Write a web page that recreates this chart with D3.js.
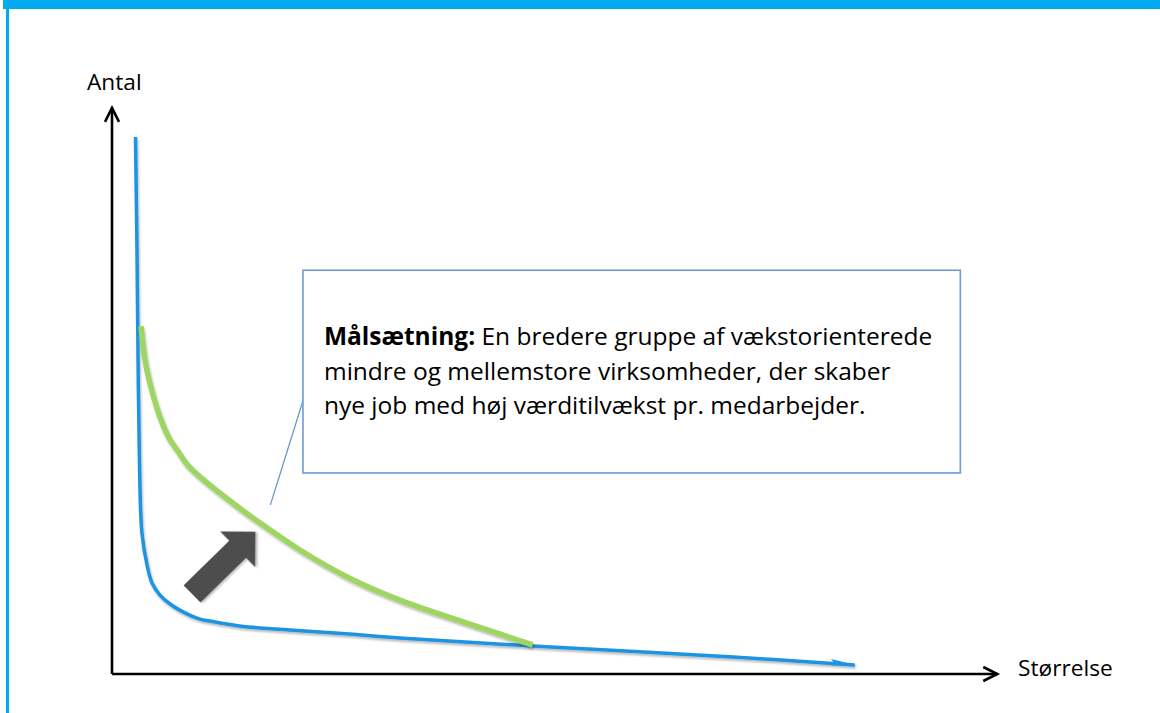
<!DOCTYPE html>
<html>
<head>
<meta charset="utf-8">
<script src="https://cdn.jsdelivr.net/npm/d3@7"></script>
<style>
  body { margin: 0; background: #fff; }
  .chart text { font-family: "Open Sans", Lato, sans-serif; fill: #000; }
</style>
</head>
<body>
<div class="chart"></div>
<script>
// axis titles
var xTitle = "Størrelse";
var yTitle = "Antal";

// current distribution of firms (blue) - x = size, y = count
var currentX = [2.67, 2.84, 2.95, 3.1, 3.4, 3.98, 4.55, 5.45, 6.6, 8.07, 10, 11.1, 14.5, 20.2, 27, 32.7, 47.8, 70.6, 84.4];
var currentY = [95.9, 75.7, 57.9, 40, 25.2, 19.5, 16.25, 14.1, 12.5, 11.1, 9.8, 9.46, 8.57, 7.86, 7.14, 6.43, 5, 3.04, 1.6];

// goal distribution (green)
var goalX = [3.3, 3.75, 4.3, 5.45, 6.6, 7.4, 8.6, 10, 13.75, 17.6, 21.4, 27, 32.7, 40.3, 47.8];
var goalY = [62.1, 56.1, 52, 45.9, 41.8, 40, 37.3, 35.2, 30.5, 26.1, 22.1, 17.1, 13.2, 9.1, 5.2];

// callout text
var goalLines = [
  { bold: "Målsætning:", rest: " En bredere gruppe af vækstorienterede" },
  { bold: "", rest: "mindre og mellemstore virksomheder, der skaber" },
  { bold: "", rest: "nye job med høj værditilvækst pr. medarbejder." }
];

var width = 1160, height = 713;
var svg = d3.select(".chart").append("svg")
  .attr("width", width)
  .attr("height", height);

var x = d3.scaleLinear().domain([0, 100]).range([112, 992]);
var y = d3.scaleLinear().domain([0, 100]).range([674, 114]);

var defs = svg.append("defs");
var f = defs.append("filter").attr("id", "shadow")
  .attr("x", "-5%").attr("y", "-5%").attr("width", "110%").attr("height", "120%");
f.append("feDropShadow").attr("dx", 1).attr("dy", 2).attr("stdDeviation", 1.2)
  .attr("flood-color", "#000").attr("flood-opacity", 0.28);

// slide frame
svg.append("rect").attr("x", 3).attr("y", 0).attr("width", width - 3).attr("height", 9).attr("fill", "#00abef");
svg.append("rect").attr("x", 6).attr("y", 0).attr("width", 3).attr("height", height).attr("fill", "#00abef");

// axes
var axisG = svg.append("g").attr("stroke", "#000").attr("stroke-width", 2.6).attr("fill", "none");
var yTop = y(101.1), xEnd = x(100.6);
axisG.append("path").attr("d", "M" + x(0) + "," + y(0) + "V" + yTop + "M" + x(0) + "," + y(0) + "H" + xEnd);
axisG.append("path").attr("stroke-linejoin", "miter")
  .attr("d", "M" + (x(0) - 7) + "," + (yTop + 14) + "L" + x(0) + "," + yTop + "L" + (x(0) + 7) + "," + (yTop + 14));
axisG.append("path").attr("stroke-linejoin", "miter")
  .attr("d", "M" + (xEnd - 14) + "," + (y(0) - 7) + "L" + xEnd + "," + y(0) + "L" + (xEnd - 14) + "," + (y(0) + 7));

svg.append("text").attr("x", 87).attr("y", 90).attr("font-size", 22.7).text(yTitle);
svg.append("text").attr("x", 1018).attr("y", 676).attr("font-size", 22.7).text(xTitle);

var line = d3.line()
  .x(function (d) { return x(d[0]); })
  .y(function (d) { return y(d[1]); })
  .curve(d3.curveCatmullRom.alpha(0.5));

var current = d3.zip(currentX, currentY);
var goal = d3.zip(goalX, goalY);

// blue line + small end head
svg.append("path").datum(current)
  .attr("d", line)
  .attr("fill", "none").attr("stroke", "#1b94e2").attr("stroke-width", 3.5)
  .attr("filter", "url(#shadow)");
var last = current[current.length - 1], prev = current[current.length - 2];
var ang = Math.atan2(y(last[1]) - y(prev[1]), x(last[0]) - x(prev[0]));
svg.append("path")
  .attr("transform", "translate(" + x(last[0]) + "," + y(last[1]) + ") rotate(" + (ang * 180 / Math.PI) + ")")
  .attr("d", "M2,0 L-24,-4.5 L-20,0 L-24,2 Z")
  .attr("fill", "#1b94e2");

// green goal line
svg.append("path").datum(goal)
  .attr("d", line)
  .attr("fill", "none").attr("stroke", "#9fd562").attr("stroke-width", 5.5)
  .attr("filter", "url(#shadow)");

// block arrow showing shift
var arrowFrom = [9.1, 14.3], arrowTo = [16.3, 25.4];
var ax0 = x(arrowFrom[0]), ay0 = y(arrowFrom[1]), ax1 = x(arrowTo[0]), ay1 = y(arrowTo[1]);
var len = Math.hypot(ax1 - ax0, ay1 - ay0);
var ad = Math.atan2(ay1 - ay0, ax1 - ax0) * 180 / Math.PI;
var sw = 12, hw = 25, hl = 25;
svg.append("path")
  .attr("transform", "translate(" + ax0 + "," + ay0 + ") rotate(" + ad + ")")
  .attr("d", "M0," + (-sw) + "L" + (len - hl) + "," + (-sw) + "L" + (len - hl) + "," + (-hw) +
    "L" + len + ",0L" + (len - hl) + "," + hw + "L" + (len - hl) + "," + sw + "L0," + sw + "Z")
  .attr("fill", "#4d4d4d")
  .attr("filter", "url(#shadow)");

// callout box
var bx = x(21.7), by = y(72.1), bw = x(96.4) - bx, bh = y(35.9) - by;
svg.append("line")
  .attr("x1", x(18)).attr("y1", y(30.2)).attr("x2", bx).attr("y2", y(48.8))
  .attr("stroke", "#6699cc").attr("stroke-width", 1.3);
svg.append("rect").attr("x", bx).attr("y", by).attr("width", bw).attr("height", bh)
  .attr("fill", "#fff").attr("stroke", "#6b9bd2").attr("stroke-width", 1.6);

var t = svg.append("text").attr("font-size", 24.5);
goalLines.forEach(function (l, i) {
  var ts = t.append("tspan").attr("x", bx + 21).attr("y", 345 + i * 34.5);
  if (l.bold) {
    ts.append("tspan").attr("font-weight", "bold").text(l.bold);
    t.append("tspan").text(l.rest);
  } else {
    ts.text(l.rest);
  }
});
</script>
</body>
</html>
